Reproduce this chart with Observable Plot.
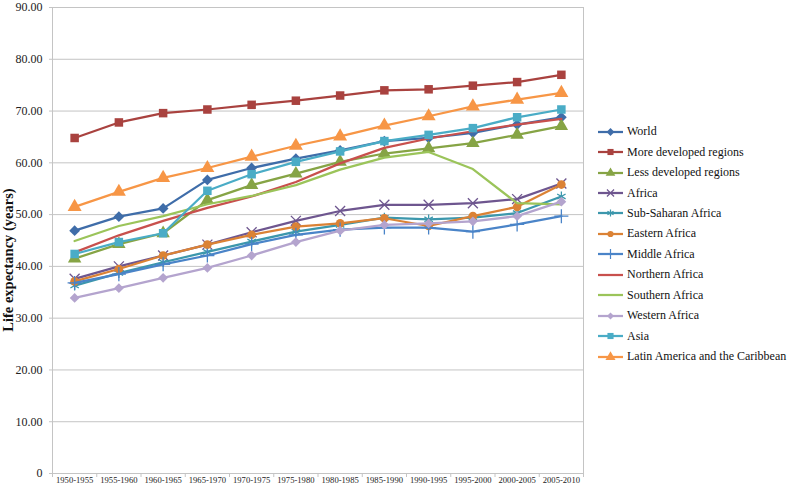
<!DOCTYPE html>
<html>
<head>
<meta charset="utf-8">
<script src="https://cdn.jsdelivr.net/npm/d3@7"></script>
<script src="https://cdn.jsdelivr.net/npm/@observablehq/plot@0.6"></script>
<style>
  html, body { margin: 0; padding: 0; background: #fff; }
  #wrap { position: relative; width: 788px; height: 486px; overflow: hidden; font-family: "Liberation Serif", "Times New Roman", serif; }
  #chart svg text { font-family: "Liberation Serif", "Times New Roman", serif; }
  #ylabel { position: absolute; left: 8px; top: 260px; transform: translate(-50%, -50%) rotate(-90deg); white-space: nowrap; font-weight: bold; font-size: 14.5px; color: #111; }
  #legend { position: absolute; left: 598px; top: 121.5px; font-size: 12px; color: #111; }
  #legend .row { height: 20.45px; display: flex; align-items: center; white-space: nowrap; }
  #legend svg { width: 25px; height: 12px; margin-right: 4px; overflow: visible; }
</style>
</head>
<body>
<div id="wrap"><div id="chart"></div><div id="ylabel">Life expectancy (years)</div><div id="legend"></div></div>
<script>
const periods = ["1950-1955","1955-1960","1960-1965","1965-1970","1970-1975","1975-1980","1980-1985","1985-1990","1990-1995","1995-2000","2000-2005","2005-2010"];
const yTicks = [0, 10, 20, 30, 40, 50, 60, 70, 80, 90];

const world      = [46.9, 49.6, 51.2, 56.7, 59.0, 60.8, 62.4, 64.2, 64.8, 65.8, 67.4, 68.8];
const moreDev    = [64.8, 67.8, 69.6, 70.3, 71.2, 72.0, 73.0, 74.0, 74.2, 74.9, 75.6, 77.0];
const lessDev    = [41.5, 44.3, 46.4, 52.8, 55.7, 57.9, 60.2, 61.8, 62.8, 63.8, 65.4, 67.1];
const africa     = [37.6, 40.0, 42.1, 44.2, 46.6, 48.8, 50.7, 51.9, 51.9, 52.2, 53.0, 56.0];
const subSaharan = [36.3, 38.7, 40.8, 42.8, 44.8, 46.7, 48.0, 49.4, 49.1, 49.4, 50.3, 53.5];
const eastern    = [37.1, 39.5, 42.1, 44.2, 46.1, 47.7, 48.3, 49.3, 47.8, 49.7, 51.5, 55.8];
const middle     = [36.8, 38.5, 40.4, 42.1, 44.3, 46.1, 47.1, 47.5, 47.5, 46.7, 48.1, 49.7];
const northern   = [42.7, 46.0, 48.8, 51.3, 53.5, 56.3, 59.9, 62.9, 64.7, 66.1, 67.4, 68.5];
const southern   = [44.9, 47.8, 49.7, 52.0, 53.6, 55.7, 58.7, 61.0, 62.1, 58.8, 52.2, 52.0];
const western    = [33.9, 35.8, 37.8, 39.7, 42.1, 44.7, 46.9, 48.0, 48.3, 48.7, 49.7, 52.5];
const asia       = [42.4, 44.7, 46.4, 54.6, 57.8, 60.2, 62.2, 64.2, 65.4, 66.7, 68.8, 70.3];
const latin      = [51.5, 54.4, 57.1, 59.0, 61.2, 63.3, 65.1, 67.2, 69.0, 70.9, 72.2, 73.5];

const seriesNames = ["World","More developed regions","Less developed regions","Africa","Sub-Saharan Africa","Eastern Africa","Middle Africa","Northern Africa","Southern Africa","Western Africa","Asia","Latin America and the Caribbean"];
const seriesValues = [world, moreDev, lessDev, africa, subSaharan, eastern, middle, northern, southern, western, asia, latin];

// styles (kept separate from data); "diamond" drawn as a square rotated 45°
const styles = [
  {color: "#3F6DA9", symbol: "square", rotate: 45, kind: "fill", r: 4.3},
  {color: "#A9423F", symbol: "square", rotate: 0, kind: "fill", r: 4.8},
  {color: "#86A445", symbol: "triangle", rotate: 0, kind: "fill", r: 5.0},
  {color: "#6E568F", symbol: "times", rotate: 0, kind: "stroke", r: 4.6},
  {color: "#3C97AC", symbol: "asterisk", rotate: 0, kind: "stroke", r: 4.6},
  {color: "#DB8235", symbol: "circle", rotate: 0, kind: "fill", r: 4.3},
  {color: "#4A84C8", symbol: "plus", rotate: 0, kind: "stroke", r: 4.6},
  {color: "#C8504D", symbol: null},
  {color: "#9BC45A", symbol: null},
  {color: "#B4A4CE", symbol: "square", rotate: 45, kind: "fill", r: 3.9},
  {color: "#4AACC6", symbol: "square", rotate: 0, kind: "fill", r: 4.8},
  {color: "#F79646", symbol: "triangle", rotate: 0, kind: "fill", r: 5.2}
];

const grid = "#c4c4c4";

const marks = [
  Plot.gridY(yTicks, {stroke: grid, strokeOpacity: 1, strokeWidth: 1}),
  Plot.frame({stroke: grid, strokeWidth: 1}),
  Plot.axisY(yTicks, {tickSize: 3, tickPadding: 7, stroke: grid, fontSize: 12, fill: "#222", label: null,
    tickFormat: d => d === 0 ? "0" : d.toFixed(2)}),
  Plot.axisX(d3.range(periods.length), {tickSize: 0, tickPadding: 3.5, fontSize: 8.6, fill: "#222", label: null,
    tickFormat: i => periods[i]}),
  Plot.axisX(d3.range(-0.5, periods.length, 1), {tickSize: 4, stroke: grid, tickFormat: () => "", label: null})
];

seriesNames.forEach((name, s) => {
  const rows = seriesValues[s].map((v, i) => ({i, v}));
  const st = styles[s];
  marks.push(Plot.line(rows, {x: "i", y: "v", stroke: st.color, strokeWidth: 2.25}));
  if (st.symbol) {
    if (st.kind === "fill") {
      marks.push(Plot.dot(rows, {x: "i", y: "v", symbol: st.symbol, rotate: st.rotate, r: st.r, fill: st.color, stroke: "none"}));
    } else {
      marks.push(Plot.dot(rows, {x: "i", y: "v", symbol: st.symbol, rotate: st.rotate, r: st.r, stroke: st.color, strokeWidth: 1.3, fill: "none"}));
    }
  }
});

const chart = Plot.plot({
  width: 788,
  height: 486,
  marginLeft: 52,
  marginRight: 205,
  marginTop: 7,
  marginBottom: 13,
  style: {background: "#fff"},
  x: {type: "linear", domain: [-0.5, periods.length - 0.5], axis: null},
  y: {domain: [0, 90], axis: null},
  marks
});
document.getElementById("chart").appendChild(chart);

// Legend
const symMap = {square: d3.symbolSquare, triangle: d3.symbolTriangle, circle: d3.symbolCircle,
  times: d3.symbolTimes, asterisk: d3.symbolAsterisk, plus: d3.symbolPlus};
const legend = d3.select("#legend");
seriesNames.forEach((name, s) => {
  const st = styles[s];
  const row = legend.append("div").attr("class", "row");
  const svg = row.append("svg").attr("viewBox", "0 -6 25 12");
  svg.append("line").attr("x1", 0).attr("x2", 25).attr("y1", 0).attr("y2", 0).attr("stroke", st.color).attr("stroke-width", 2.25);
  if (st.symbol) {
    const rr = st.r * 0.72;
    const path = d3.symbol(symMap[st.symbol], Math.PI * rr * rr)();
    const p = svg.append("path").attr("d", path).attr("transform", `translate(12.5,0) rotate(${st.rotate})`);
    if (st.kind === "fill") p.attr("fill", st.color);
    else p.attr("fill", "none").attr("stroke", st.color).attr("stroke-width", 1.2);
  }
  row.append("span").text(name);
});
</script>
</body>
</html>
